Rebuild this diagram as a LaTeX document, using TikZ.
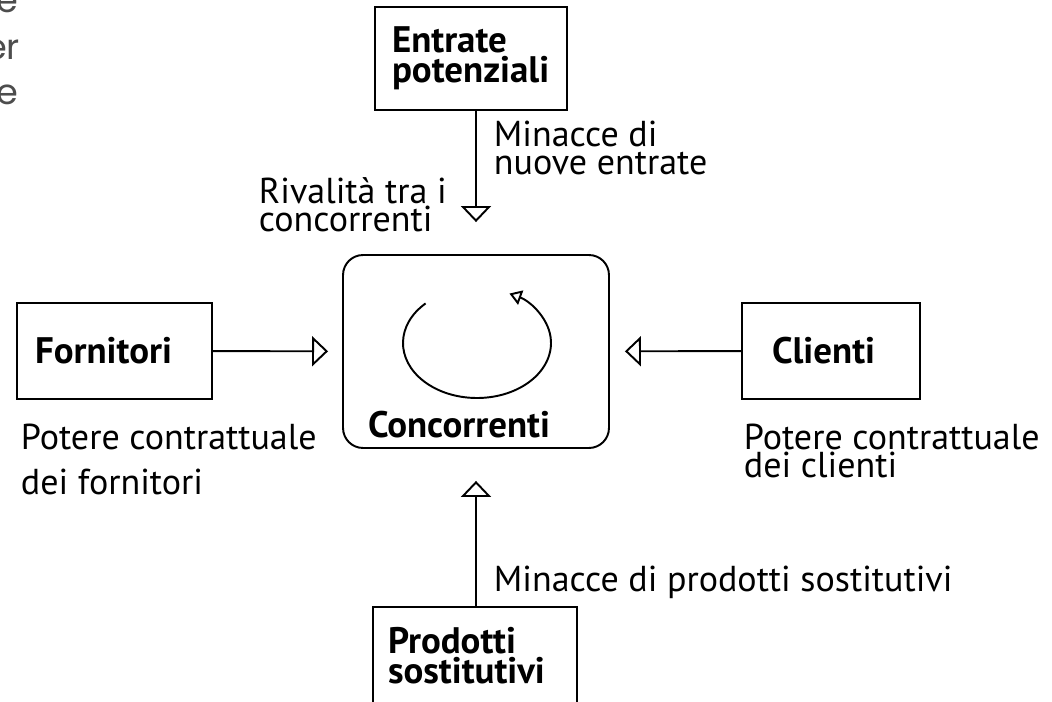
\documentclass[tikz,border=0pt]{standalone}
\usepackage{fontspec}
\setmainfont{PT Sans}
\newfontfamily\poppins{Poppins}
\usetikzlibrary{arrows.meta, positioning}
\definecolor{slidegray}{HTML}{4D4D4D}

\begin{document}
\begin{tikzpicture}[x = 0.02cm, y = 0.02cm, % one unit is one pixel of the slide
        > = {Triangle[open, length = 0.32cm, width = 0.6cm]}, % hollow heads
        line width = 1.1pt, % line style
        every node/.style = {font = \fontsize{20.5pt}{17pt}\selectfont,
            inner sep = 0pt}
    ]

    \tikzstyle{title}=[font = \fontsize{21pt}{17pt}\selectfont\bfseries]
    \tikzstyle{force}=[title, draw = black, line width = 1.4pt, align = left,
    inner xsep = 0.34cm, minimum height = 1.92cm]
    \tikzstyle{note}=[anchor = north west, align = left,
    font = \fontsize{20.5pt}{15.9pt}\selectfont]

    \useasboundingbox (0,0) rectangle (1052,701);

    % cut-off text of the slide
    \node[anchor = base east, text = slidegray, font = \fontsize{20pt}{20pt}\poppins]
    (g1) at (19,688) {e};
    \node[anchor = base east, text = slidegray, font = \fontsize{20pt}{20pt}\poppins]
    (g2) at (21,641) {er};
    \node[anchor = base east, text = slidegray, font = \fontsize{20pt}{20pt}\poppins]
    (g3) at (19,596) {e};

    % the five forces
    \node[force, text width = 3.16cm, minimum height = 2.06cm] (entr) at (471,642.5)
    {Entrate\\potenziali};
    \node[draw = black, rounded corners = 0.4cm, minimum width = 5.32cm,
    minimum height = 3.86cm] (conc) at (476,349.5) {};
    \node[title, anchor = base west] (conclbl) at ([shift = {(25,11)}]conc.south west)
    {Concorrenti};
    \node[force, text width = 3.18cm, inner xsep = 0.36cm] (forn) at (114.5,350)
    {Fornitori};
    \node[force, text width = 2.36cm, inner xsep = 0.6cm] (clie) at (831,350)
    {Clienti};
    \node[force, text width = 3.48cm, inner xsep = 0.3cm, minimum height = 1.96cm]
    (prod) at (475,45) {Prodotti\\sostitutivi};

    % rivalry loop
    \coordinate (cyc) at ([shift = {(1,8.5)}]conc.center);
    \draw[line width = 1.1pt, -{Triangle[open, length = 0.24cm, width = 0.3cm]}]
    ([shift = {(134:74 and 55)}]cyc) arc[start angle = 134, end angle = 424,
    x radius = 74, y radius = 55];

    \path[->, shorten > = 0.64cm] (entr.south -| conc.north) edge (conc.north);
    \path[->, shorten > = 0.64cm] (prod.north -| conc.south) edge (conc.south);
    \path[->, shorten > = 0.28cm] (forn) edge (conc);
    \path[->, shorten > = 0.30cm] (clie) edge (conc);

    % labels
    \node[note] (newlbl) at (493,581) {Minacce di\\nuove entrate};
    \node[note] (rivlbl) at (258,524) {Rivalità tra i\\concorrenti};
    \node[note] (sostlbl) at (493,136) {Minacce di prodotti sostitutivi};
    \node[note] (fornlbl) at (20,278) {Potere contrattuale\\[9.6pt]dei fornitori};
    \node[note] (clielbl) at (743,278) {Potere contrattuale\\dei clienti};
\end{tikzpicture}
\end{document}
